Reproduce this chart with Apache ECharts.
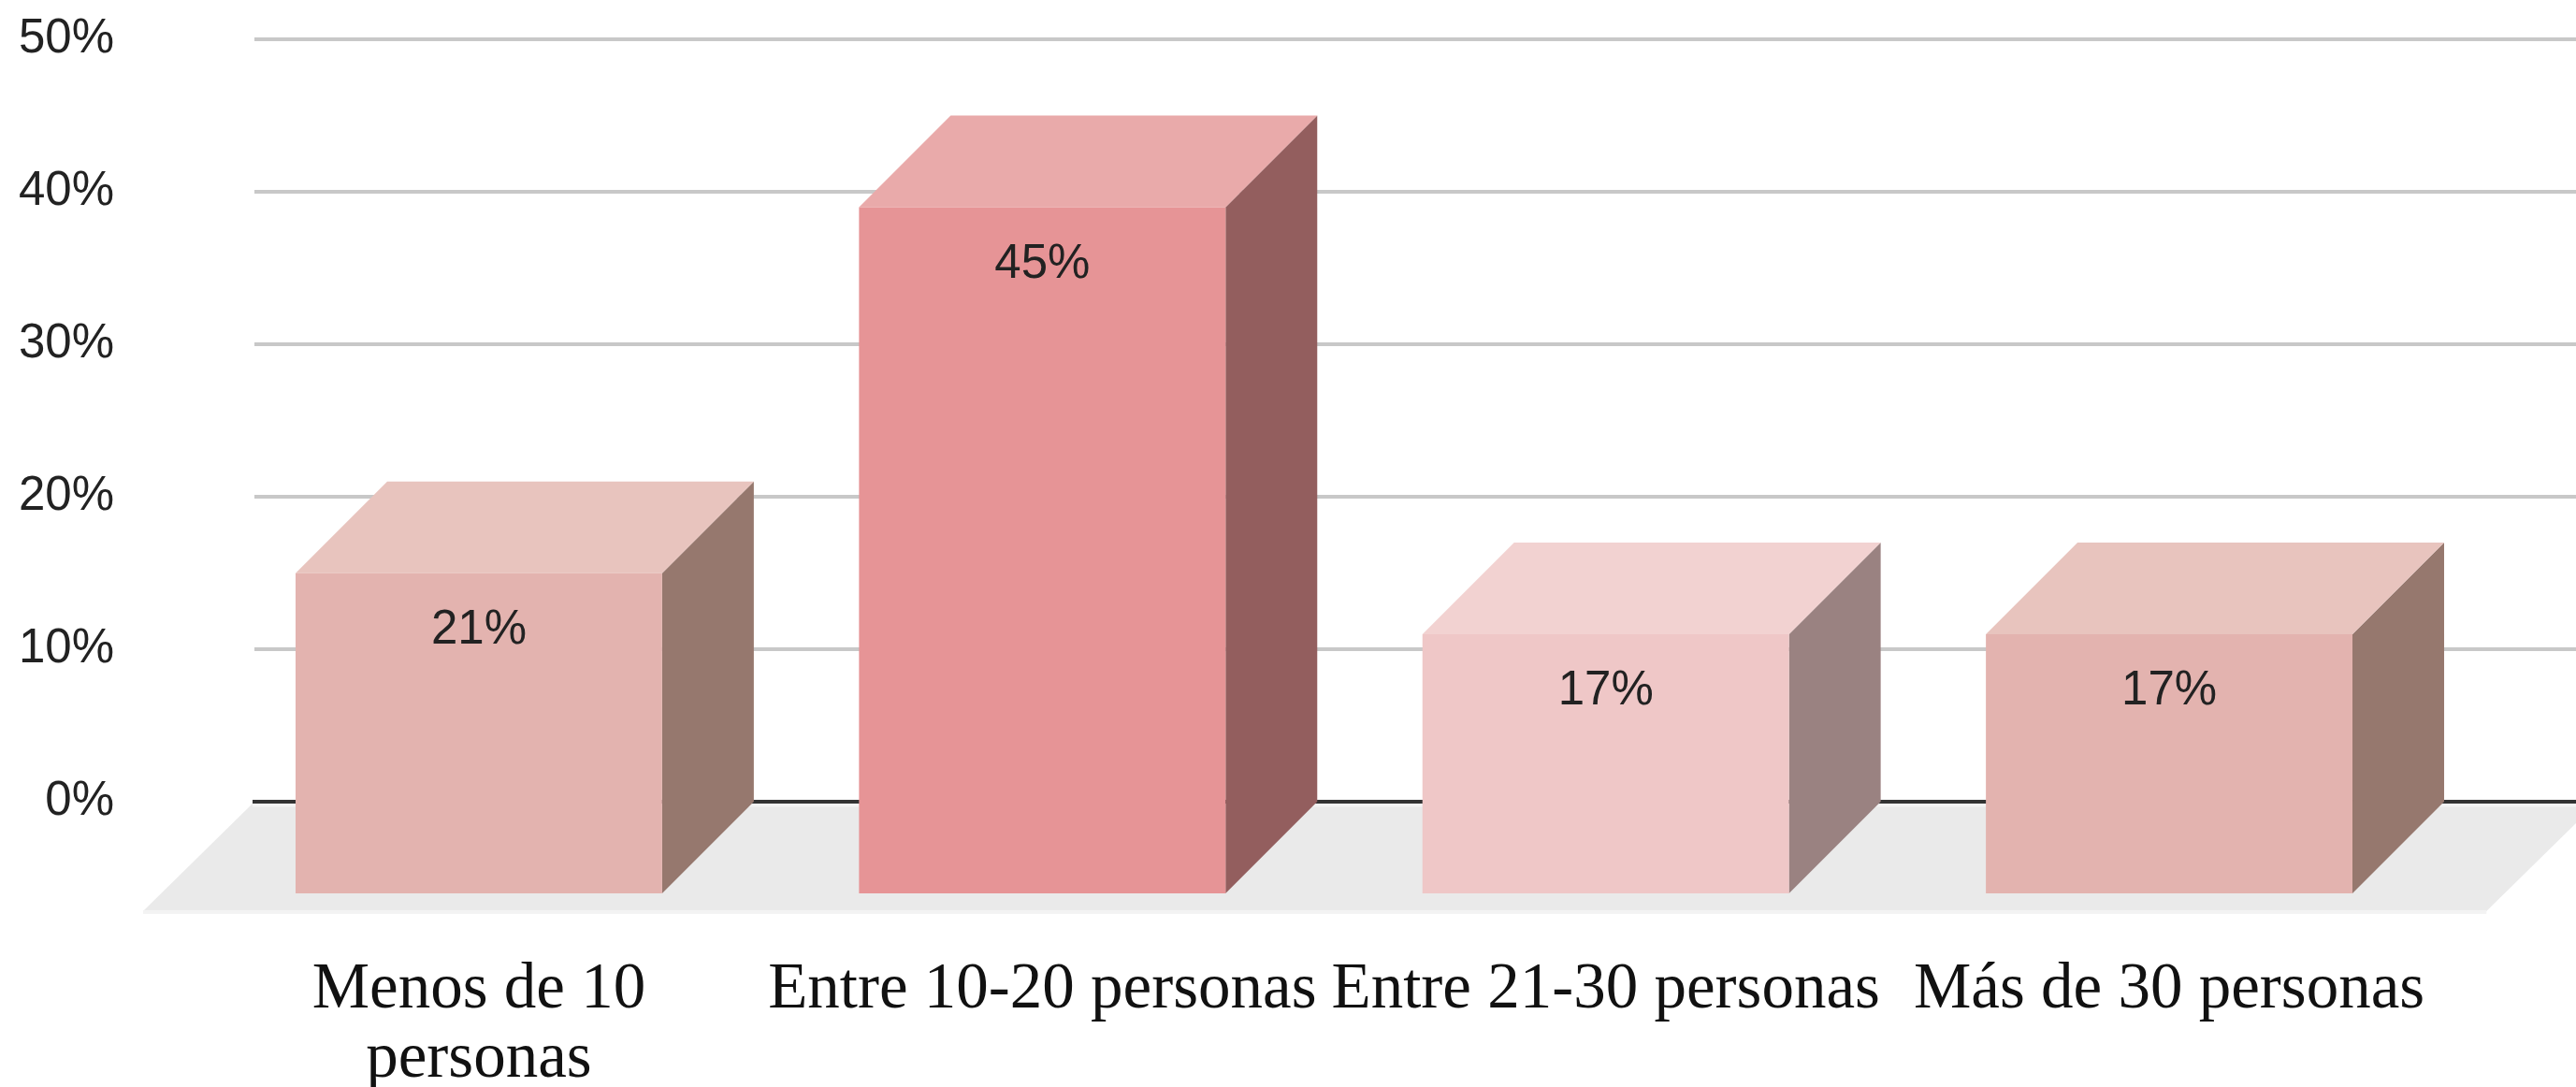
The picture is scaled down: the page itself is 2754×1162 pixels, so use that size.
<!DOCTYPE html>
<html>
<head>
<meta charset="utf-8">
<style>
  html, body { margin: 0; padding: 0; background: #ffffff; }
  #chart { width: 2754px; height: 1162px; }
</style>
<script src="https://cdn.jsdelivr.net/npm/echarts@6/dist/echarts.min.js"></script>
</head>
<body>
<div id="chart"></div>
<script>
// ---- data ----
const categories = ['Menos de 10\npersonas', 'Entre 10-20 personas', 'Entre 21-30 personas', 'Más de 30 personas'];
const values = [21, 45, 17, 17];
const valueLabels = ['21%', '45%', '17%', '17%'];
const yMin = 0, yMax = 50, yStep = 10;

// ---- styles ----
const faceColors = [
  { front: '#e3b3af', top: '#e8c4be', side: '#96786e' },
  { front: '#e69496', top: '#e9aaaa', side: '#935e5e' },
  { front: '#efc7c7', top: '#f2d2d1', side: '#9a8281' },
  { front: '#e3b3af', top: '#e8c4be', side: '#96786e' }
];
const DEPTH = 98;         // bar depth offset (px)
const FLOOR_DEPTH = 117;  // floor depth offset (px)
const BAR_RATIO = 0.6506; // front-face width / band width

const chart = echarts.init(document.getElementById('chart'), null, { renderer: 'canvas' });

const option = {
  backgroundColor: '#ffffff',
  animation: false,
  grid: [
    { left: 272, right: 0, top: 42, bottom: 305, containLabel: false, outerBoundsMode: 'none' },
    { left: 210.75, right: 133.75, top: 42, bottom: 305, containLabel: false, outerBoundsMode: 'none' }
  ],
  xAxis: [
    {
      gridIndex: 0, type: 'value', min: 0, max: 1, show: false
    },
    {
      gridIndex: 1, type: 'category', data: categories,
      axisLine: { show: false }, axisTick: { show: false }, splitLine: { show: false },
      axisLabel: {
        interval: 0, margin: 165, hideOverlap: false,
        fontFamily: 'Liberation Serif', fontSize: 69, lineHeight: 74, color: '#111111'
      }
    }
  ],
  yAxis: [
    {
      gridIndex: 0, type: 'value', min: yMin, max: yMax, interval: yStep,
      axisLine: { show: false }, axisTick: { show: false },
      axisLabel: {
        formatter: '{value}%', margin: 150,
        fontFamily: 'Liberation Sans', fontSize: 51, color: '#222222'
      },
      splitLine: { show: true, lineStyle: { color: '#c8c8c8', width: 4 } }
    },
    {
      gridIndex: 1, type: 'value', min: yMin, max: yMax, interval: yStep, show: false,
      splitLine: { show: false }
    }
  ],
  series: [
    {
      // floor + zero line
      type: 'custom', xAxisIndex: 1, yAxisIndex: 1, clip: false, silent: true, z: 1,
      data: [[0, 0]],
      renderItem: function (params, api) {
        const cs = params.coordSys;
        const y0 = api.coord([0, 0])[1];
        const backL = cs.x + 59.25, backR = cs.x + cs.width + 155;
        return {
          type: 'group',
          children: [
            {
              type: 'polygon',
              shape: { points: [
                [backL, y0 + 2], [backR, y0 + 2],
                [backR - FLOOR_DEPTH, y0 + FLOOR_DEPTH], [backL - FLOOR_DEPTH, y0 + FLOOR_DEPTH]
              ] },
              style: { fill: '#eaeaea' }
            },
            {
              type: 'line',
              shape: { x1: backL - FLOOR_DEPTH, y1: y0 + FLOOR_DEPTH + 1, x2: backR - FLOOR_DEPTH, y2: y0 + FLOOR_DEPTH + 1 },
              style: { stroke: '#f3f3f3', lineWidth: 4 }
            },
            {
              type: 'line',
              shape: { x1: backL, y1: y0 + 4, x2: backR, y2: y0 + 4 },
              style: { stroke: '#f3f3f3', lineWidth: 3 }
            },
            {
              type: 'line',
              shape: { x1: backL, y1: y0, x2: backR, y2: y0 },
              style: { stroke: '#333333', lineWidth: 4 }
            }
          ]
        };
      }
    },
    {
      // 3D bars
      type: 'custom', xAxisIndex: 1, yAxisIndex: 1, clip: false, z: 3,
      data: values.map(function (v, i) { return [i, v]; }),
      renderItem: function (params, api) {
        const i = api.value(0), v = api.value(1);
        const top = api.coord([i, v]);
        const base = api.coord([i, 0]);
        const hw = api.size([1, 0])[0] * BAR_RATIO / 2;
        const c = faceColors[params.dataIndex];
        const l = top[0] - hw, r = top[0] + hw;
        const ft = top[1] + DEPTH, fb = base[1] + DEPTH;
        return {
          type: 'group',
          children: [
            {
              type: 'polygon',
              shape: { points: [[r, ft], [r + DEPTH, ft - DEPTH], [r + DEPTH, fb - DEPTH], [r, fb]] },
              style: { fill: c.side }
            },
            {
              type: 'polygon',
              shape: { points: [[l, ft], [r, ft], [r + DEPTH, ft - DEPTH], [l + DEPTH, ft - DEPTH]] },
              style: { fill: c.top }
            },
            {
              type: 'rect',
              shape: { x: l, y: ft, width: r - l, height: fb - ft },
              style: { fill: c.front }
            },
            {
              type: 'text',
              style: {
                text: valueLabels[params.dataIndex],
                x: top[0], y: ft + 61,
                align: 'center', verticalAlign: 'middle',
                fontFamily: 'Liberation Sans', fontSize: 51, fill: '#222222'
              }
            }
          ]
        };
      }
    }
  ]
};

chart.setOption(option);
</script>
</body>
</html>
